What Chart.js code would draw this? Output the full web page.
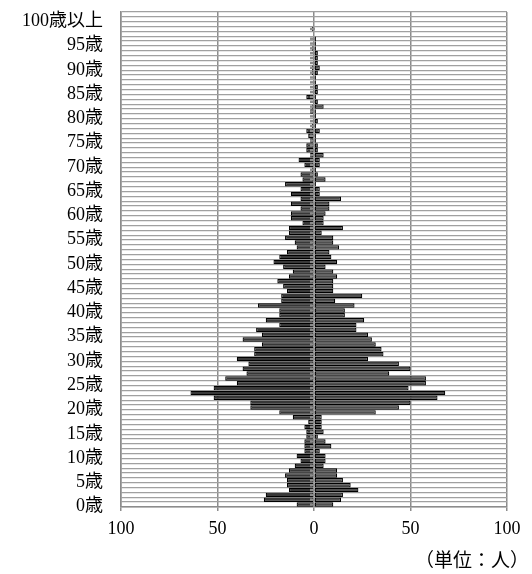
<!DOCTYPE html>
<html>
<head>
<meta charset="utf-8">
<script src="https://cdn.jsdelivr.net/npm/chart.js@4.4.1/dist/chart.umd.min.js"></script>
<style>
  body { margin: 0; background: #fff; }
  #wrap { position: relative; width: 532px; height: 574px; }
  #unit {
    position: absolute; right: 3px; top: 545px; line-height: 1;
    font: 19px "Noto Sans CJK JP", serif; color: #000;
  }
</style>
</head>
<body>
<div id="wrap">
  <canvas id="pyramid" width="532" height="574"></canvas>
  <div id="unit">（単位：人）</div>
</div>
<script>
// age categories 0..100, plus one empty slot at the top like the original
const ages = Array.from({ length: 101 }, (_, i) => i === 100 ? '100歳以上' : i + '歳');
const slots = ages.concat(['']);

// left side (index = age)
const male = [
  9, 26, 25, 13, 14, 14, 15, 13, 10, 7,
  9, 5, 5, 5, 4, 4, 5, 3, 11, 18,
  33, 33, 52, 64, 52, 40, 46, 35, 37, 34,
  40, 31, 31, 27, 37, 27, 30, 18, 25, 18,
  18, 29, 17, 17, 14, 16, 19, 13, 11, 16,
  21, 18, 14, 9, 10, 15, 13, 13, 6, 12,
  12, 7, 12, 7, 12, 7, 15, 6, 7, 1,
  5, 8, 2, 4, 4, 2, 3, 4, 1, 0,
  0, 2, 1, 0, 4, 0, 0, 0, 0, 1,
  1, 0, 0, 0, 1, 0, 0, 0, 1, 0,
  0
];

// right side
const female = [
  10, 14, 15, 23, 19, 15, 12, 12, 5, 6,
  6, 3, 9, 6, 2, 5, 4, 4, 4, 32,
  44, 50, 64, 68, 49, 58, 58, 39, 50, 44,
  28, 36, 35, 32, 30, 28, 22, 22, 26, 16,
  16, 21, 11, 25, 10, 10, 10, 12, 10, 6,
  12, 9, 8, 13, 10, 10, 4, 15, 5, 5,
  6, 8, 8, 14, 3, 3, 1, 6, 2, 1,
  3, 3, 5, 2, 2, 1, 1, 3, 1, 2,
  1, 1, 5, 2, 1, 2, 2, 1, 1, 2,
  3, 2, 2, 2, 1, 1, 1, 0, 0, 0,
  0
];

const xTicks = [-100, -50, 0, 50, 100];

const FONT = '"Liberation Serif", "Noto Sans CJK JP", serif';

// light band on the bars next to the zero line
const zeroBand = {
  id: 'zeroBand',
  afterDatasetsDraw(chart) {
    const c = chart.ctx;
    const x0 = chart.scales.x.getPixelForValue(0);
    const meta = chart.getDatasetMeta(0);
    c.save();
    c.fillStyle = '#8c8c8c';
    meta.data.forEach((bar, i) => {
      if (!male[i] && !female[i]) return;
      const h = bar.height;
      c.fillRect(x0 - 4, bar.y - h / 2 + 1, 5, h - 2);
    });
    c.restore();
  }
};

new Chart(document.getElementById('pyramid'), {
  type: 'bar',
  data: {
    labels: slots,
    datasets: [
      {
        label: 'male',
        data: male.map(v => -v),
        backgroundColor: '#383838',
        borderColor: '#000',
        borderWidth: 1.2,
        borderSkipped: false,
        categoryPercentage: 1,
        barPercentage: 0.92
      },
      {
        label: 'female',
        data: female,
        backgroundColor: '#505050',
        borderColor: '#000',
        borderWidth: 1.2,
        borderSkipped: false,
        categoryPercentage: 1,
        barPercentage: 0.92
      }
    ]
  },
  options: {
    indexAxis: 'y',
    responsive: false,
    animation: false,
    layout: { padding: { top: 12, right: 25, left: 0, bottom: 0 } },
    plugins: { legend: { display: false }, tooltip: { enabled: false } },
    scales: {
      x: {
        stacked: true,
        min: -100,
        max: 100,
        afterBuildTicks: s => { s.ticks = xTicks.map(v => ({ value: v })); },
        afterFit: s => { s.height = 67; s.paddingLeft = 0; s.paddingRight = 0; },
        grid: { color: '#8c8c8c', lineWidth: 1.5, tickLength: 4, tickColor: '#8c8c8c' },
        border: { color: '#8c8c8c', width: 1.5 },
        ticks: {
          color: '#000',
          font: { family: FONT, size: 18 },
          padding: 7,
          maxRotation: 0,
          callback: v => String(Math.abs(v))
        }
      },
      y: {
        stacked: true,
        reverse: true,
        afterFit: s => { s.width = 121; s.paddingTop = 0; s.paddingBottom = 0; },
        grid: { color: '#a0a0a0', lineWidth: 1.3, drawTicks: false },
        border: { color: '#8c8c8c', width: 1.5 },
        ticks: {
          color: '#000',
          autoSkip: false,
          padding: 18,
          labelOffset: 2,
          font: { family: FONT, size: 18 },
          callback: (v, i) => i % 5 === 0 ? slots[i] : ''
        }
      }
    }
  },
  plugins: [zeroBand]
});
</script>
</body>
</html>
